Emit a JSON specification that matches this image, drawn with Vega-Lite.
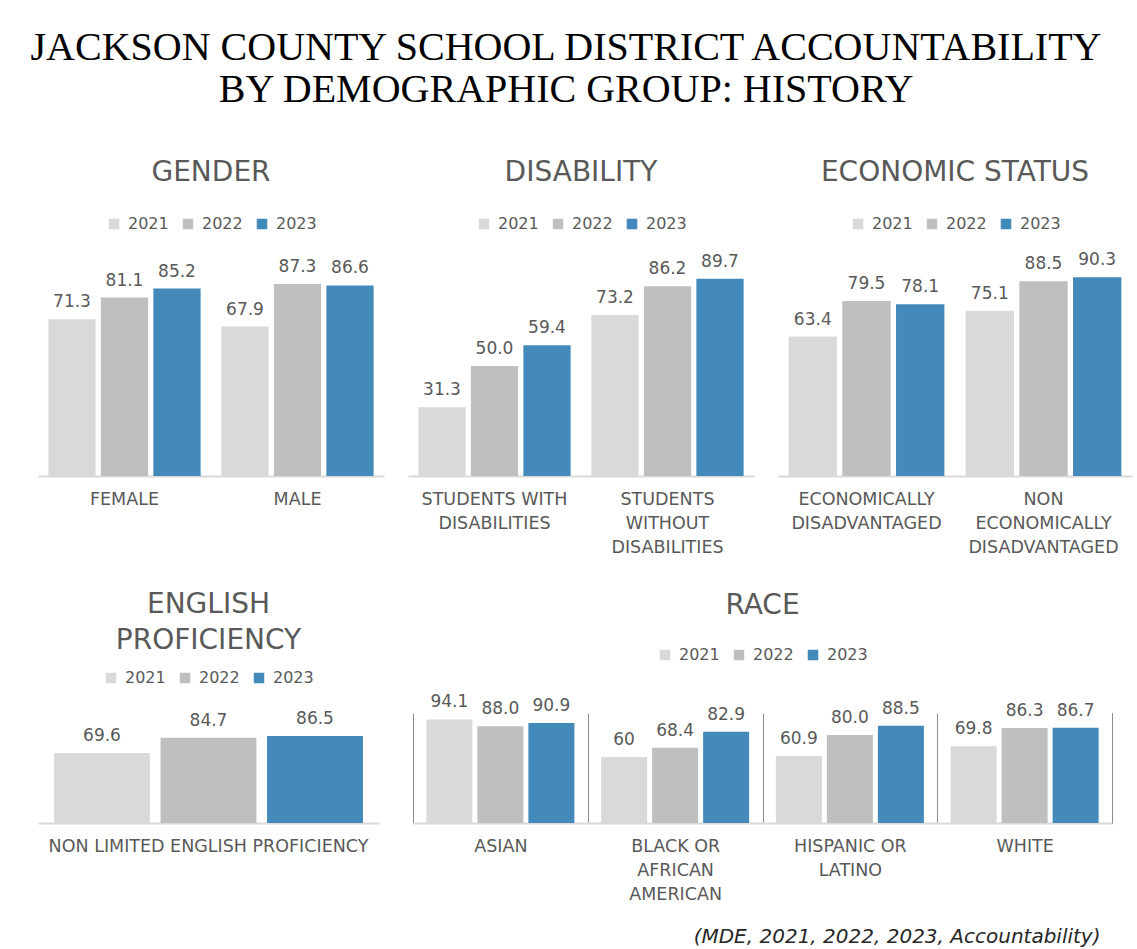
{
  "$schema": "https://vega.github.io/schema/vega-lite/v6.json",
  "background": "white",
  "padding": {"left": 27, "top": 28, "right": 5, "bottom": 5},
  "title": {
    "text": ["JACKSON COUNTY SCHOOL DISTRICT ACCOUNTABILITY", "BY DEMOGRAPHIC GROUP: HISTORY"],
    "font": "Liberation Serif",
    "fontSize": 40,
    "fontWeight": "normal",
    "color": "#000000",
    "lineHeight": 42,
    "anchor": "middle",
    "dx": -19,
    "offset": 49
  },
  "config": {
    "view": {"stroke": null},
    "font": "DejaVu Sans",
    "title": {"font": "DejaVu Sans", "fontSize": 28, "fontWeight": "normal", "color": "#595959", "offset": 29, "lineHeight": 36},
    "axis": {
      "labelFont": "DejaVu Sans",
      "labelFontSize": 17.5,
      "labelColor": "#595959",
      "labelAngle": 0,
      "labelPadding": 14,
      "labelLineHeight": 24,
      "labelOverlap": false,
      "labelLimit": 400,
      "ticks": false,
      "domainColor": "#D9D9D9",
      "domainWidth": 2,
      "grid": false,
      "title": null
    },
    "legend": {
      "orient": "top",
      "direction": "horizontal",
      "title": null,
      "symbolType": "square",
      "symbolSize": 110,
      "symbolStrokeWidth": 0,
      "labelFont": "DejaVu Sans",
      "labelFontSize": 16,
      "labelColor": "#595959",
      "labelOffset": 6,
      "columnPadding": 11,
      "offset": 24,
      "padding": 0,
      "layout": {"top": {"anchor": "middle"}}
    }
  },
  "datasets": {
    "gender": [
      {"group": "FEMALE", "year": "2021", "value": 71.3, "label": "71.3"},
      {"group": "FEMALE", "year": "2022", "value": 81.1, "label": "81.1"},
      {"group": "FEMALE", "year": "2023", "value": 85.2, "label": "85.2"},
      {"group": "MALE", "year": "2021", "value": 67.9, "label": "67.9"},
      {"group": "MALE", "year": "2022", "value": 87.3, "label": "87.3"},
      {"group": "MALE", "year": "2023", "value": 86.6, "label": "86.6"}
    ],
    "disability": [
      {"group": "STUDENTS WITH DISABILITIES", "year": "2021", "value": 31.3, "label": "31.3"},
      {"group": "STUDENTS WITH DISABILITIES", "year": "2022", "value": 50.0, "label": "50.0"},
      {"group": "STUDENTS WITH DISABILITIES", "year": "2023", "value": 59.4, "label": "59.4"},
      {"group": "STUDENTS WITHOUT DISABILITIES", "year": "2021", "value": 73.2, "label": "73.2"},
      {"group": "STUDENTS WITHOUT DISABILITIES", "year": "2022", "value": 86.2, "label": "86.2"},
      {"group": "STUDENTS WITHOUT DISABILITIES", "year": "2023", "value": 89.7, "label": "89.7"}
    ],
    "economic": [
      {"group": "ECONOMICALLY DISADVANTAGED", "year": "2021", "value": 63.4, "label": "63.4"},
      {"group": "ECONOMICALLY DISADVANTAGED", "year": "2022", "value": 79.5, "label": "79.5"},
      {"group": "ECONOMICALLY DISADVANTAGED", "year": "2023", "value": 78.1, "label": "78.1"},
      {"group": "NON ECONOMICALLY DISADVANTAGED", "year": "2021", "value": 75.1, "label": "75.1"},
      {"group": "NON ECONOMICALLY DISADVANTAGED", "year": "2022", "value": 88.5, "label": "88.5"},
      {"group": "NON ECONOMICALLY DISADVANTAGED", "year": "2023", "value": 90.3, "label": "90.3"}
    ],
    "english": [
      {"group": "NON LIMITED ENGLISH PROFICIENCY", "year": "2021", "value": 69.6, "label": "69.6"},
      {"group": "NON LIMITED ENGLISH PROFICIENCY", "year": "2022", "value": 84.7, "label": "84.7"},
      {"group": "NON LIMITED ENGLISH PROFICIENCY", "year": "2023", "value": 86.5, "label": "86.5"}
    ],
    "race": [
      {"group": "ASIAN", "year": "2021", "value": 94.1, "label": "94.1"},
      {"group": "ASIAN", "year": "2022", "value": 88.0, "label": "88.0"},
      {"group": "ASIAN", "year": "2023", "value": 90.9, "label": "90.9"},
      {"group": "BLACK OR AFRICAN AMERICAN", "year": "2021", "value": 60, "label": "60"},
      {"group": "BLACK OR AFRICAN AMERICAN", "year": "2022", "value": 68.4, "label": "68.4"},
      {"group": "BLACK OR AFRICAN AMERICAN", "year": "2023", "value": 82.9, "label": "82.9"},
      {"group": "HISPANIC OR LATINO", "year": "2021", "value": 60.9, "label": "60.9"},
      {"group": "HISPANIC OR LATINO", "year": "2022", "value": 80.0, "label": "80.0"},
      {"group": "HISPANIC OR LATINO", "year": "2023", "value": 88.5, "label": "88.5"},
      {"group": "WHITE", "year": "2021", "value": 69.8, "label": "69.8"},
      {"group": "WHITE", "year": "2022", "value": 86.3, "label": "86.3"},
      {"group": "WHITE", "year": "2023", "value": 86.7, "label": "86.7"}
    ]
  },
  "vconcat": [
    {
      "hconcat": [
        {
          "title": {"text": "GENDER"},
          "width": 346, "height": 220,
          "data": {"name": "gender"},
          "encoding": {
            "x": {"field": "group", "type": "nominal", "sort": null, "scale": {"paddingInner": 0.12, "paddingOuter": 0.06}, "axis": {}},
            "xOffset": {"field": "year", "type": "nominal", "scale": {"paddingInner": 0.1, "paddingOuter": 0}},
            "y": {"field": "value", "type": "quantitative", "scale": {"domain": [0, 100], "nice": false}, "axis": null}
          },
          "layer": [
            {"mark": {"type": "bar"}, "encoding": {"color": {"field": "year", "type": "nominal", "scale": {"domain": ["2021", "2022", "2023"], "range": ["#D9D9D9", "#BFBFBF", "#4389B9"]}}}},
            {"mark": {"type": "text", "baseline": "alphabetic", "dy": -12, "fontSize": 17, "color": "#595959"}, "encoding": {"text": {"field": "label"}}}
          ]
        },
        {
          "title": {"text": "DISABILITY"},
          "width": 346, "height": 220,
          "data": {"name": "disability"},
          "encoding": {
            "x": {"field": "group", "type": "nominal", "sort": null, "scale": {"paddingInner": 0.12, "paddingOuter": 0.06},
              "axis": {"labelExpr": "datum.label == 'STUDENTS WITH DISABILITIES' ? ['STUDENTS WITH', 'DISABILITIES'] : ['STUDENTS', 'WITHOUT', 'DISABILITIES']"}},
            "xOffset": {"field": "year", "type": "nominal", "scale": {"paddingInner": 0.1, "paddingOuter": 0}},
            "y": {"field": "value", "type": "quantitative", "scale": {"domain": [0, 100], "nice": false}, "axis": null}
          },
          "layer": [
            {"mark": {"type": "bar"}, "encoding": {"color": {"field": "year", "type": "nominal", "scale": {"domain": ["2021", "2022", "2023"], "range": ["#D9D9D9", "#BFBFBF", "#4389B9"]}}}},
            {"mark": {"type": "text", "baseline": "alphabetic", "dy": -12, "fontSize": 17, "color": "#595959"}, "encoding": {"text": {"field": "label"}}}
          ]
        },
        {
          "title": {"text": "ECONOMIC STATUS"},
          "width": 354, "height": 220,
          "data": {"name": "economic"},
          "encoding": {
            "x": {"field": "group", "type": "nominal", "sort": null, "scale": {"paddingInner": 0.12, "paddingOuter": 0.06},
              "axis": {"labelExpr": "datum.label == 'ECONOMICALLY DISADVANTAGED' ? ['ECONOMICALLY', 'DISADVANTAGED'] : ['NON', 'ECONOMICALLY', 'DISADVANTAGED']"}},
            "xOffset": {"field": "year", "type": "nominal", "scale": {"paddingInner": 0.1, "paddingOuter": 0}},
            "y": {"field": "value", "type": "quantitative", "scale": {"domain": [0, 100], "nice": false}, "axis": null}
          },
          "layer": [
            {"mark": {"type": "bar"}, "encoding": {"color": {"field": "year", "type": "nominal", "scale": {"domain": ["2021", "2022", "2023"], "range": ["#D9D9D9", "#BFBFBF", "#4389B9"]}}}},
            {"mark": {"type": "text", "baseline": "alphabetic", "dy": -12, "fontSize": 17, "color": "#595959"}, "encoding": {"text": {"field": "label"}}}
          ]
        }
      ],
      "spacing": 24,
      "bounds": "flush",
      "resolve": {"scale": {"color": "independent", "x": "independent", "y": "independent", "xOffset": "independent"}, "legend": {"color": "independent"}}
    },
    {
      "hconcat": [
        {
          "title": {"text": ["ENGLISH", "PROFICIENCY"], "offset": 15},
          "width": 341, "height": 110,
          "data": {"name": "english"},
          "encoding": {
            "x": {"field": "group", "type": "nominal", "sort": null, "scale": {"paddingInner": 0, "paddingOuter": 0.052}, "axis": {}},
            "xOffset": {"field": "year", "type": "nominal", "scale": {"paddingInner": 0.1, "paddingOuter": 0}},
            "y": {"field": "value", "type": "quantitative", "scale": {"domain": [0, 109.3], "nice": false}, "axis": null}
          },
          "layer": [
            {"mark": {"type": "bar"}, "encoding": {"color": {"field": "year", "type": "nominal", "scale": {"domain": ["2021", "2022", "2023"], "range": ["#D9D9D9", "#BFBFBF", "#4389B9"]}, "legend": {"offset": 27}}}},
            {"mark": {"type": "text", "baseline": "alphabetic", "dy": -12, "fontSize": 17, "color": "#595959"}, "encoding": {"text": {"field": "label"}}}
          ]
        },
        {
          "title": {"text": "RACE", "offset": 27},
          "width": 699, "height": 110,
          "data": {"name": "race"},
          "encoding": {
            "x": {"field": "group", "type": "nominal", "sort": null, "scale": {"paddingInner": 0, "paddingOuter": 0},
              "axis": {
                "labelExpr": "datum.label == 'BLACK OR AFRICAN AMERICAN' ? ['BLACK OR', 'AFRICAN', 'AMERICAN'] : datum.label == 'HISPANIC OR LATINO' ? ['HISPANIC OR', 'LATINO'] : datum.label",
                "grid": true, "gridColor": "#8C8C8C", "gridWidth": 1, "tickBand": "extent",
                "title": "(MDE, 2021, 2022, 2023, Accountability)",
                "titleFont": "DejaVu Sans", "titleFontSize": 20, "titleFontStyle": "italic", "titleFontWeight": "normal",
                "titleColor": "#262626", "titleAnchor": "end", "titleAlign": "right", "titleX": 687, "titlePadding": 24
              }},
            "xOffset": {"field": "year", "type": "nominal", "scale": {"paddingInner": 0.098, "paddingOuter": 0.262}},
            "y": {"field": "value", "type": "quantitative", "scale": {"domain": [0, 100], "nice": false},
              "axis": {"orient": "right", "labels": false, "ticks": false, "grid": false, "domain": true, "domainColor": "#8C8C8C", "domainWidth": 1, "title": null}}
          },
          "layer": [
            {"mark": {"type": "bar"}, "encoding": {"color": {"field": "year", "type": "nominal", "scale": {"domain": ["2021", "2022", "2023"], "range": ["#D9D9D9", "#BFBFBF", "#4389B9"]}, "legend": {"offset": 50}}}},
            {"mark": {"type": "text", "baseline": "alphabetic", "dy": -12, "fontSize": 17, "color": "#595959"}, "encoding": {"text": {"field": "label"}}}
          ]
        }
      ],
      "spacing": 34,
      "bounds": "flush",
      "resolve": {"scale": {"color": "independent", "x": "independent", "y": "independent", "xOffset": "independent"}, "legend": {"color": "independent"}}
    }
  ],
  "spacing": 457,
  "bounds": "flush",
  "resolve": {"scale": {"color": "independent", "x": "independent", "y": "independent", "xOffset": "independent"}, "legend": {"color": "independent"}}
}
